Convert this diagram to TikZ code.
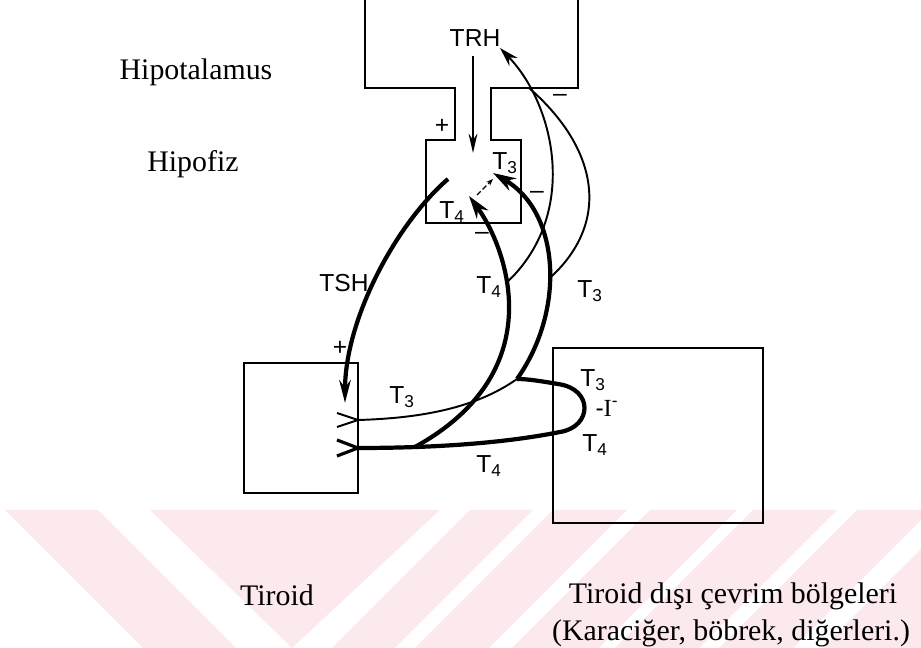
\documentclass[tikz,border=0pt]{standalone}
\usepackage{fontspec}
\setmainfont{Liberation Serif}
\setsansfont{Liberation Sans}
\usepackage{tikz}
\usetikzlibrary{arrows.meta}
\definecolor{wmpink}{HTML}{FCE9ED}
\newcommand{\hormT}[1]{T\textsubscript{#1}}

\begin{document}
\begin{tikzpicture}[
    x=0.02cm, y=-0.02cm,
    organ/.style={draw=black, line width=1.1pt},
    serif/.style={font=\fontsize{17}{20}\selectfont, inner sep=0pt},
    tag/.style={font=\sffamily\fontsize{14}{16}\selectfont, inner sep=0pt},
    thickflow/.style={line width=2.4pt},
    thinflow/.style={line width=1.1pt},
    fattip/.style={-{Stealth[length=13pt, width=8pt]}},
    fbtip/.style={-{Stealth[length=11pt, width=6.5pt]}},
    longtip/.style={-{Stealth[length=11pt, width=5pt]}},
    smalltip/.style={-{Stealth[length=4pt, width=3pt]}},
    wm/.style={fill=wmpink, draw=none},
]
\useasboundingbox (0,0) rectangle (921,648);

% Watermark bands
\fill[wm] (5,510) -- (98,510) -- (236,648) -- (143,648) -- cycle;
\fill[wm] (150,510) -- (440,510) -- (292,648) -- cycle;
\foreach \xa/\xb in {470/533, 553/627, 650/737, 753/837, 857/931, 960/1060}
  \fill[wm] (\xa,510) -- (\xb,510) -- ({\xb-138},648) -- ({\xa-138},648) -- cycle;

% Organs
\draw[organ] (365,-3) |- (455,88) |- (426,140) |- (521,223) |- (491,140) |- (578,88) -- (578,-3);
\draw[organ] (244,363) rectangle (358,493);
\draw[organ] (553,348) rectangle (763,523);

% Captions
\node[serif, anchor=base] (hipot) at (196,80) {Hipotalamus};
\node[serif, anchor=base] (hipof) at (193,172) {Hipofiz};
\node[serif, anchor=base] (tir) at (277,606) {Tiroid};
\node[serif, anchor=base] (extra) at (733,604) {Tiroid dışı çevrim bölgeleri};
\node[serif, anchor=base] (organs) at (731,641) {(Karaciğer, böbrek, diğerleri.)};

% Hormone labels
\node[tag] (trh) at (475,38) {TRH};
\node[tag] (tsh) at (344,283) {TSH};
\node[tag] (t3pit) at (505,163) {\hormT{3}};
\node[tag] (t4pit) at (452,212) {\hormT{4}};
\node[tag] (t4mid) at (489,287) {\hormT{4}};
\node[tag] (t3mid) at (590,291) {\hormT{3}};
\node[tag] (t3thy) at (402,397) {\hormT{3}};
\node[tag] (t4bot) at (489,466) {\hormT{4}};
\node[tag] (t3ext) at (593,380) {\hormT{3}};
\node[tag] (iod) at (607,408) {-\textrm{I}\textsuperscript{-}};
\node[tag] (t4ext) at (595,445) {\hormT{4}};

% Signs
\node[tag] (plusStalk) at (442,126) {+};
\node[tag] (plusThy) at (340,348) {+};
\node[tag] (minusHyp) at (560,98) {\textendash};
\node[tag] (minusPit) at (537,195) {\textendash};
\node[tag] (minusBelow) at (482,236) {\textendash};

% Ends of the flows
\coordinate (trhTip) at (473,153);
\coordinate (tshFrom) at (448,179);
\coordinate (tshTip) at (345,403);
\coordinate (pitT3) at (493,173);
\coordinate (pitT4) at (469,196);
\coordinate (convFrom) at (477,195);
\coordinate (convTo) at (493,179);
\coordinate (thyT3) at (358,420);
\coordinate (thyT4) at (358,448);
\coordinate (loopBot) at (560,432);
\coordinate (loopTop) at (558,384);
\coordinate (junc) at (517,379);
\coordinate (trhFb) at (500,48);

% TRH and TSH
\draw[line width=1.4pt, longtip, shorten <=5pt] (trh.south -| trhTip) -- (trhTip);
\draw[thickflow, -{Stealth[length=13pt, width=6.5pt]}] (tshFrom) .. controls (395,225) and (345,320) .. (tshTip);
\draw[line width=0.8pt, smalltip, dash pattern=on 3pt off 1.5pt] (convFrom) -- (convTo);

% Thyroid output
\draw[thinflow] (thyT3) ++(-21,-7) -- (thyT3) -- ++(-21,7);
\draw[line width=1.8pt] (thyT4) ++(-21,-8) -- (thyT4) -- ++(-21,8);
\draw[thinflow] (thyT3) .. controls (430,418) and (480,405) .. (junc);
\draw[thickflow, line join=round] (thyT4) .. controls (450,448) and (515,441) .. (loopBot) coordinate[pos=0.22] (t4fork)
  .. controls (592,427) and (594,389) .. (loopTop) .. controls (540,381) and (528,379) .. (junc);

% Back to the pituitary
\draw[thickflow, fattip] (t4fork) .. controls (555,370) and (505,245) .. (pitT4) coordinate[pos=0.6] (t4fb);
\draw[thickflow, fattip] (junc) .. controls (566,310) and (560,212) .. (pitT3) coordinate[pos=0.44] (t3fb);

% Feedback to TRH
\draw[thinflow, fbtip] (t4fb) .. controls (580,215) and (555,105) .. (trhFb) coordinate[pos=0.8] (fbMerge);
\draw[thinflow] (t3fb) .. controls (612,222) and (598,148) .. (fbMerge);

\end{tikzpicture}
\end{document}
